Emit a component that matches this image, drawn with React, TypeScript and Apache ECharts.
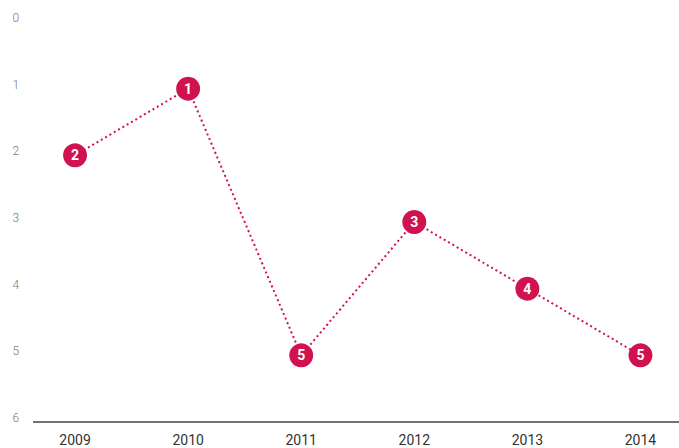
import React, { useEffect, useRef } from "react";
import * as echarts from "echarts";

const years = ["2009", "2010", "2011", "2012", "2013", "2014"];
const ranks = [2, 1, 5, 3, 4, 5];
const yTicks = [0, 1, 2, 3, 4, 5, 6];

const RED = "#d0124f";

export default function App() {
  const ref = useRef<HTMLDivElement>(null);
  useEffect(() => {
    if (!ref.current) return;
    const chart = echarts.init(ref.current, undefined, { renderer: "svg" });
    chart.setOption({
      animation: false,
      grid: { left: 18.5, right: 0, top: 22, bottom: 26, containLabel: false },
      xAxis: {
        type: "category",
        data: years,
        boundaryGap: true,
        axisLine: { show: false },
        axisTick: { show: false },
        axisLabel: { color: "#333", fontSize: 14, fontFamily: "Roboto", margin: 11 },
        splitLine: { show: false },
      },
      yAxis: {
        type: "value",
        inverse: true,
        min: yTicks[0],
        max: yTicks[yTicks.length - 1],
        interval: 1,
        axisLine: { show: false },
        axisTick: { show: false },
        splitLine: { show: false },
        axisLabel: {
          color: "#7a7a7a",
          fontSize: 12,
          fontFamily: "Roboto",
          fontWeight: 300,
          align: "left",
          verticalAlign: "bottom",
          lineHeight: 8,
          margin: 6,
        },
      },
      graphic: [
        {
          type: "line",
          shape: { x1: 33, y1: 422, x2: 679, y2: 422 },
          style: { stroke: "#444", lineWidth: 1.5 },
        },
      ],
      series: [
        {
          type: "line",
          data: ranks,
          symbol: "circle",
          symbolSize: 24,
          itemStyle: { color: RED },
          lineStyle: { color: RED, width: 2, type: [2, 3] },
          label: {
            show: true,
            position: "inside",
            color: "#fff",
            fontSize: 14,
            fontWeight: "bold",
            fontFamily: "Roboto",
          },
        },
      ],
    });
    return () => chart.dispose();
  }, []);
  return (
    <div style={{ width: 679, height: 448, position: "absolute", left: 0, top: 0, overflow: "hidden" }}>
      <div ref={ref} style={{ width: 697, height: 448 }} />
    </div>
  );
}
